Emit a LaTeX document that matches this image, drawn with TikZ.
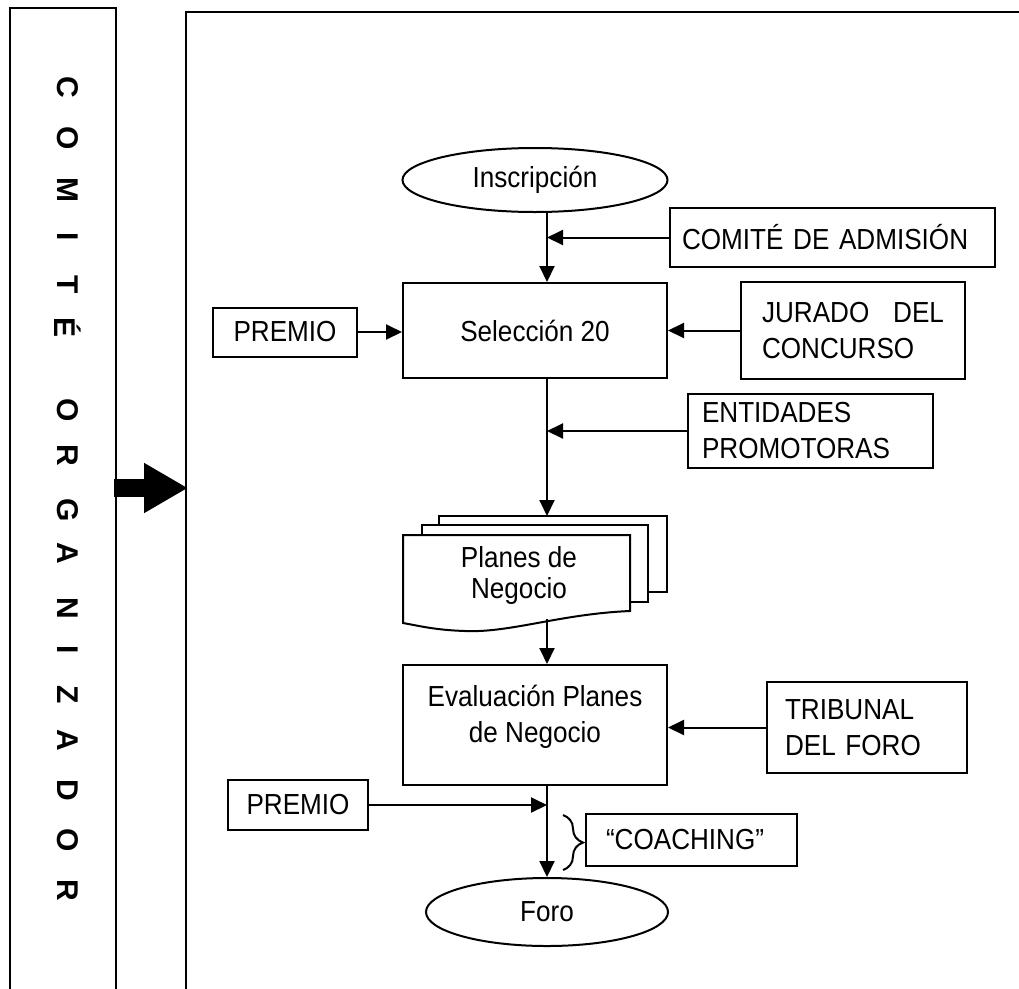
\documentclass[tikz,border=0pt]{standalone}
\usepackage{fontspec}
\setmainfont[FakeStretch=0.9]{Liberation Sans}
\newfontfamily\letfont{Liberation Sans}
\usetikzlibrary{shapes.geometric,arrows.meta,decorations.pathreplacing}
\begin{document}
\begin{tikzpicture}[x=1pt,y=-1pt,
  every node/.style={font=\fontsize{29}{36}\selectfont},
  ln/.style={line width=2pt},
  arr/.style={ln,-{Triangle[length=16pt,width=15pt]}},
  box/.style={draw,ln,rectangle,inner sep=0pt},
  oval/.style={draw,ln,ellipse,inner sep=0pt},
  vlet/.style={font=\letfont\fontsize{30}{30}\selectfont\bfseries,rotate=-90,inner sep=0pt},
  page/.style={draw,ln,fill=white}
]
\useasboundingbox (0,0) rectangle (1019,988);

% left column and main frame
\draw[ln] (10,992) -- (10,8) -- (116,8) -- (116,992);
\draw[ln] (186,992) -- (186,12) -- (1022,12);
\coordinate (colE) at (114,488);
\coordinate (frW) at (188,488);
\draw[line width=18pt,-{Triangle[length=44pt,width=47pt]}] (colE) -- (frW);

% vertical letters
\foreach \l/\yy [count=\i] in {C/87,O/138,M/190,I/237,T/285,É/327,O/410,R/455,G/510,A/553,N/608,I/650,Z/695,A/740,D/790,O/840,R/890}
  \node[vlet] (let\i) at (68,\yy) {\l};

% main axis
\coordinate (ax) at (547,0);

% nodes
\node[oval,minimum width=265pt,minimum height=64pt] (insc) at (535,180) {Inscripción};
\node[box,minimum height=59pt,inner xsep=12pt,text width=301pt,align=left] (adm) at (832.5,237.5) {COMITÉ DE ADMISIÓN};
\node[box,minimum width=264pt,minimum height=95pt] (sel) at (535,330.5) {Selección 20};
\node[box,minimum width=144pt,minimum height=49pt] (prem1) at (285,332) {PREMIO};
\node[box,minimum height=97pt,inner xsep=21pt,text width=182pt,align=left] (jur) at (853,330.5) {JURADO\hfill DEL\\CONCURSO};
\node[box,minimum height=74pt,inner xsep=14pt,text width=217pt,align=left] (ent) at (810.5,431) {ENTIDADES\\PROMOTORAS};

% multi-document
\draw[page] (439,516) rectangle (667,592);
\draw[page] (422,525) rectangle (648,602);
\draw[page] (403,535) -- (630,535) -- (630,611)
  .. controls (560,614) and (510,633) .. (465,631)
  .. controls (435,630) and (420,626) .. (403,623) -- cycle;
\node[font=\fontsize{29}{31}\selectfont,align=center] (planes) at (519,575) {Planes de\\Negocio};
\coordinate (pgtop) at (547,516);
\coordinate (pgbot) at (547,619);

\node[box,minimum width=264pt,minimum height=120pt] (eval) at (535,725) {};
\node[align=center] (evaltxt) at (535,717) {Evaluación Planes\\de Negocio};
\node[box,minimum height=91pt,inner xsep=18pt,text width=164pt,align=left] (trib) at (867,727.5) {TRIBUNAL\\DEL FORO};
\node[box,minimum width=140pt,minimum height=50pt] (prem2) at (298,805) {PREMIO};
\node[box,minimum height=52pt,inner xsep=20pt,text width=171pt,align=left] (coach) at (691.5,840) {“COACHING”};
\node[oval,minimum width=242pt,minimum height=68pt] (foro) at (547,912) {Foro};

% connectors
\draw[arr] (ax |- insc.south) -- (ax |- sel.north);
\draw[arr] (adm.west) -- (ax |- adm.west);
\draw[arr] (prem1.east) -- (sel.west |- prem1.east);
\draw[arr] (jur.west) -- (sel.east |- jur.west);
\draw[arr] (ax |- sel.south) -- (pgtop);
\draw[arr] (ent.west) -- (ax |- ent.west);
\draw[arr] (pgbot) -- (ax |- eval.north);
\draw[arr] (trib.west) -- (eval.east |- trib.west);
\draw[arr] (prem2.east) -- (ax |- prem2.east);
\draw[arr] (ax |- eval.south) -- (foro.north);

% brace
\coordinate (brt) at (563,815);
\coordinate (brb) at (563,870);
\draw[ln,decorate,decoration={brace,amplitude=20pt}] (brt) -- (brb);
\end{tikzpicture}
\end{document}
